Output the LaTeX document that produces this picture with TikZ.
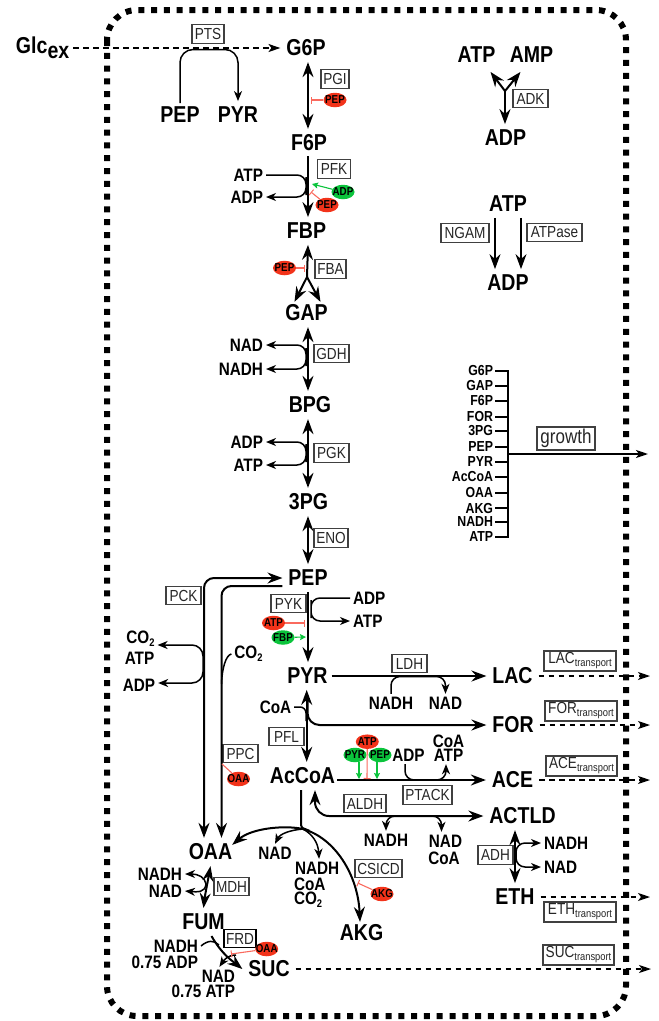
\documentclass[tikz,border=0pt]{standalone}
\usepackage{fontspec}
\setmainfont{Liberation Sans}[FakeStretch=0.85]
\usetikzlibrary{arrows.meta,positioning,shapes.geometric}
\definecolor{cred}{HTML}{F2331A}
\definecolor{cgreen}{HTML}{0BC43C}
\definecolor{credl}{HTML}{FA6A5E}
\newcommand{\twosub}{\raisebox{-3pt}{\fontsize{11}{11}\selectfont 2}}
\newcommand{\trsub}{\raisebox{-3pt}{\fontsize{11}{11}\selectfont transport}}
\begin{document}
\begin{tikzpicture}[x=1pt,y=-1pt,
  met/.style={font=\bfseries\fontsize{23}{23}\selectfont,inner sep=1pt,outer sep=5pt},
  cof/.style={font=\bfseries\fontsize{18}{18}\selectfont,inner sep=0pt,outer sep=3pt},
  pre/.style={font=\bfseries\fontsize{14.5}{14.5}\selectfont,inner sep=0pt,outer sep=2pt,anchor=east},
  enz/.style={draw=black!75,line width=1.2pt,text=black!85,inner sep=0pt,
              font=\fontsize{16}{16}\selectfont,minimum height=18.5pt},
  rred/.style={ellipse,fill=cred,minimum width=23pt,minimum height=14.5pt,inner xsep=-3pt,inner ysep=-1pt,
               font=\bfseries\fontsize{11.5}{11.5}\selectfont},
  rgreen/.style={rred,fill=cgreen},
  wall/.style={line width=6pt,dash pattern=on 6pt off 6.8pt,rounded corners=30pt},
  main/.style={-{Stealth[length=15pt,width=11pt,inset=5pt]},line width=2pt},
  both/.style={main,{Stealth[length=15pt,width=11pt,inset=5pt]}-{Stealth[length=15pt,width=11pt,inset=5pt]}},
  plain/.style={line width=2pt},
  side/.style={-{Stealth[length=10pt,width=8pt,inset=3pt]},line width=1.5pt,rounded corners=9pt},
  sideb/.style={side,{Stealth[length=10pt,width=8pt,inset=3pt]}-{Stealth[length=10pt,width=8pt,inset=3pt]}},
  flux/.style={-{Stealth[length=12pt,width=8pt,inset=3pt]},line width=1.4pt,dash pattern=on 5.5pt off 4.5pt},
  inh/.style={-{Bar[width=7pt,line width=1pt]},draw=credl,line width=1.1pt},
  act/.style={-{Stealth[length=6pt,width=6pt,inset=1pt]},draw=cgreen,line width=1.1pt}]
  \useasboundingbox (0,0) rectangle (659,1021);
  \draw[wall] (107,10) rectangle (626,1016);
  \coordinate (col) at (308,0);
  % glycolysis
  \node[met,anchor=base west,outer sep=3pt] (glc) at (12,53) {Glc\raisebox{-5pt}{ex}};
  \node[met] (g6p) at (306,48) {G6P};
  \node[met] (pepT) at (180,115) {PEP};
  \node[met] (pyrT) at (238,115) {PYR};
  \node[met] (f6p) at (309,143) {F6P};
  \node[met] (fbp) at (306.5,231) {FBP};
  \node[met] (gap) at (306.5,313) {GAP};
  \node[met] (bpg) at (310,405) {BPG};
  \node[met] (tpg) at (308.5,502) {3PG};
  \node[met] (pep) at (308,578) {PEP};
  \node[met] (pyr) at (307.5,676) {PYR};
  \node[met] (accoa) at (302.5,776) {AcCoA};
  \node[met] (oaa) at (210.5,852) {OAA};
  \node[met] (fum) at (203.5,922) {FUM};
  \node[met] (suc) at (269,969) {SUC};
  \node[met] (akg) at (361.5,933) {AKG};
  \node[met] (lac) at (512.5,676) {LAC};
  \node[met] (for) at (513,725) {FOR};
  \node[met] (ace) at (512.5,780) {ACE};
  \node[met] (actld) at (522.5,816) {ACTLD};
  \node[met] (eth) at (515,897) {ETH};
  % enzymes
  \node[enz,minimum width=32pt] (pts) at (208,34) {PTS};
  \node[enz,minimum width=28pt] (pgi) at (335,79) {PGI};
  \node[enz,minimum width=33pt] (pfk) at (334,169) {PFK};
  \node[enz,minimum width=31pt] (fba) at (330.5,269) {FBA};
  \node[enz,minimum width=35pt] (gdh) at (331.5,353.5) {GDH};
  \node[enz,minimum width=35pt] (pgk) at (331.5,453) {PGK};
  \node[enz,minimum width=34pt] (eno) at (331,538) {ENO};
  \node[enz,minimum width=35pt] (pyk) at (288.5,603.5) {PYK};
  \node[enz,minimum width=35pt] (pck) at (183.5,595.5) {PCK};
  \node[enz,minimum width=35pt] (ppc) at (240.5,753.5) {PPC};
  \node[enz,minimum width=35pt] (pfl) at (286.5,736.5) {PFL};
  \node[enz,minimum width=35pt] (ldh) at (409.5,663.5) {LDH};
  \node[enz,minimum width=49pt] (ptack) at (427.5,795) {PTACK};
  \node[enz,minimum width=42pt] (aldh) at (365,803.5) {ALDH};
  \node[enz,minimum width=47pt] (csicd) at (378.5,868.5) {CSICD};
  \node[enz,minimum width=35pt] (adh) at (495.5,855) {ADH};
  \node[enz,minimum width=35pt] (mdh) at (231.5,886.5) {MDH};
  \node[enz,minimum width=32pt,draw=black] (frd) at (240,938.5) {FRD};
  \node[enz,minimum width=35pt] (adk) at (530.5,98.5) {ADK};
  \node[enz,minimum width=48pt] (ngam) at (465,233) {NGAM};
  \node[enz,minimum width=55pt] (atpase) at (554.5,232.5) {ATPase};
  \node[enz,minimum width=58pt,minimum height=23pt,font=\fontsize{20}{20}\selectfont] (growth) at (566,438.5) {growth};
  \node[enz,minimum width=72pt,minimum height=20pt] (lactr) at (580,661) {LAC\trsub};
  \node[enz,minimum width=72pt,minimum height=20pt] (fortr) at (581,711) {FOR\trsub};
  \node[enz,minimum width=71pt,minimum height=20pt] (acetr) at (581.5,766) {ACE\trsub};
  \node[enz,minimum width=72pt,minimum height=20pt] (ethtr) at (580,912) {ETH\trsub};
  \node[enz,minimum width=71pt,minimum height=20pt] (suctr) at (578.5,955) {SUC\trsub};
  % PTS and upper glycolysis
  \coordinate (ptsc) at (208,49.5);
  \draw[flux] (glc.east |- g6p.west) -- (g6p.west);
  \draw[side,rounded corners=13pt,shorten <=-2pt] (pepT.north) |- (ptsc) -| (pyrT.north);
  \draw[both] (col |- g6p.south) -- (col |- f6p.north);
  \draw[main,shorten <=-1pt] (col |- f6p.south) -- (col |- fbp.north);
  \coordinate (fbaj) at (307,277);
  \draw[main] (fbaj) -- (col |- fbp.south);
  \draw[main] (fbaj) -- ([xshift=-12pt,yshift=-3pt]gap.north);
  \draw[main] (fbaj) -- ([xshift=14pt,yshift=-3pt]gap.north);
  \draw[both] (col |- gap.south) -- (col |- bpg.north);
  \draw[both] (col |- bpg.south) -- (col |- tpg.north);
  \draw[both] (col |- tpg.south) -- (col |- pep.north);
  \draw[main] (col |- pep.south) -- (col |- pyr.north);
  % cofactors along the column
  \node[cof,anchor=east] (atpA) at (266,175) {ATP};
  \node[cof,anchor=east] (adpA) at (266,197) {ADP};
  \coordinate (pfkc) at (306,186);
  \draw[side] (atpA.east) -| (pfkc) |- (adpA.east);
  \node[cof,anchor=east] (nadA) at (266,345) {NAD};
  \node[cof,anchor=east] (nadhA) at (266,369) {NADH};
  \coordinate (gdhc) at (306,357);
  \draw[sideb] (nadA.east) -| (gdhc) |- (nadhA.east);
  \node[cof,anchor=east] (adpB) at (266,442) {ADP};
  \node[cof,anchor=east] (atpB) at (266,465) {ATP};
  \coordinate (pgkc) at (306,453);
  \draw[sideb] (adpB.east) -| (pgkc) |- (atpB.east);
  \node[cof,anchor=west] (adpC) at (350,598) {ADP};
  \node[cof,anchor=west] (atpC) at (350,621) {ATP};
  \coordinate (pykc) at (311,609);
  \draw[side] (adpC.west) -| (pykc) |- (atpC.west);
  % regulators of the column
  \node[rred] (pepR) at (335,100) {PEP};
  \coordinate (pgit) at (311,100);
  \draw[inh] (pepR) -- (pgit);
  \node[rgreen] (adpR) at (343,192) {ADP};
  \node[rred] (pepS) at (327,205) {PEP};
  \coordinate (pfkg) at (312,184);
  \coordinate (pfkr) at (311,192);
  \draw[act] (adpR) -- (pfkg);
  \draw[inh] (pepS) -- (pfkr);
  \node[rred] (pepU) at (284.5,268) {PEP};
  \coordinate (fbat) at (305,268);
  \draw[inh] (pepU) -- (fbat);
  \node[rred] (atpR) at (273.5,623) {ATP};
  \node[rgreen] (fbpR) at (283,637.5) {FBP};
  \coordinate (pykr) at (305,623);
  \coordinate (pykg) at (306,637);
  \draw[inh] (atpR) -- (pykr);
  \draw[act] (fbpR) -- (pykg);
  % anaplerosis
  \draw[both,rounded corners=10pt] (pep.west) -| ([xshift=-6.5pt]oaa.north);
  \draw[main,rounded corners=10pt] ([yshift=-8pt]pep.west) -| ([xshift=11pt]oaa.north);
  \node[cof] (co2A) at (140.5,639) {CO\twosub};
  \node[cof] (atpD) at (139.5,658) {ATP};
  \node[cof] (adpD) at (139,685) {ADP};
  \coordinate (pckc) at (203,664);
  \draw[sideb,rounded corners=11pt] ([yshift=-6pt]co2A.east) -| (pckc) |- ([yshift=2pt]adpD.east);
  \node[cof] (co2B) at (248.5,654) {CO\twosub};
  \coordinate (ppcc) at (221.5,684);
  \draw[line width=1.5pt] (co2B.west) .. controls (226,655) and (222,668) .. (ppcc);
  \node[rred] (oaaR) at (238.5,779) {OAA};
  \coordinate (ppcr) at (222,764);
  \draw[inh,-] (oaaR) -- (ppcr);
  % pyruvate node
  \coordinate (colb) at (306.7,0);
  \coordinate (pflj) at (307.5,698);
  \draw[main,shorten <=-2pt] (pyr.east) -- (lac.west);
  \draw[both] (colb |- pyr.south) -- (colb |- accoa.north);
  \draw[main,rounded corners=12pt] (pflj) |- (for.west);
  \node[cof] (coaA) at (275.5,707) {CoA};
  \coordinate (coac) at (306,721);
  \draw[side,-,rounded corners=6pt] (coaA.east) -| (coac);
  \node[cof] (nadhL) at (391,703) {NADH};
  \node[cof] (nadL) at (445.5,703) {NAD};
  \coordinate (ldhc) at (420,676.5);
  \draw[side] (nadhL.north) |- (ldhc) -| (nadL.north);
  % acetate branch
  \draw[main,shorten <=-4pt] (accoa.east |- ace.west) -- (ace.west);
  \node[rred] (atpV) at (367.3,741.7) {ATP};
  \node[rgreen] (pyrV) at (355,755) {PYR};
  \node[rgreen] (pepV) at (380,755) {PEP};
  \coordinate (aceg) at (359,779);
  \coordinate (ackg) at (377,779);
  \coordinate (acer) at (367,779);
  \draw[act] (aceg |- pyrV.south) -- (aceg);
  \draw[act] (ackg |- pepV.south) -- (ackg);
  \draw[inh] (atpV) -- (acer);
  \node[cof] (adpE) at (408.5,755) {ADP};
  \node[cof] (atpE) at (448.5,755) {ATP};
  \node[cof] (coaE) at (448.5,741) {CoA};
  \coordinate (ptackc) at (425,780);
  \draw[side] ([xshift=-3.5pt]adpE.south) |- (ptackc) -| ([xshift=-2.5pt]atpE.south);
  % acetaldehyde and ethanol
  \draw[both,rounded corners=14pt] ([xshift=12.5pt]accoa.south) |- (actld.west);
  \coordinate (aldhl) at (400,816);
  \coordinate (aldhr) at (425,816);
  \node[cof] (nadhG) at (386,840) {NADH};
  \node[cof] (nadG) at (445.5,841) {NAD};
  \node[cof] (coaG) at (444,858) {CoA};
  \draw[side] (aldhl) -| (nadhG.north);
  \draw[side] (aldhr) -| ([xshift=-4pt]nadG.north);
  \coordinate (colc) at (515,0);
  \draw[both] (colc |- actld.south) -- (colc |- eth.north);
  \node[cof,anchor=west] (nadhH) at (541,843) {NADH};
  \node[cof,anchor=west] (nadH) at (541,867) {NAD};
  \coordinate (adhc) at (516,855);
  \draw[side] (adhc) |- (nadhH.west);
  \draw[side] (adhc) |- (nadH.west);
  % TCA side
  \coordinate (tcaj) at (303,829);
  \draw[plain,rounded corners=4pt] ([xshift=-1.5pt]accoa.south) |- (tcaj);
  \draw[main] (tcaj) .. controls (285,825) and (252,828) .. ([xshift=-6pt,yshift=-7pt]oaa.north east);
  \draw[main] (tcaj) .. controls (335,838) and (358,875) .. ([xshift=-1.5pt,yshift=-3pt]akg.north);
  \node[cof] (nadJ) at (275,853) {NAD};
  \node[cof,anchor=west] (nadhJ) at (292,868) {NADH};
  \node[cof,anchor=west] (coaJ) at (291,884) {CoA};
  \node[cof,anchor=west] (co2J) at (291,900) {CO\twosub};
  \draw[side] (tcaj) .. controls (290,830) and (280,834) .. (nadJ.north);
  \draw[side] (tcaj) .. controls (312,834) and (318,842) .. ([xshift=2pt]nadhJ.north);
  \node[rred] (akgR) at (382,894) {AKG};
  \coordinate (csr) at (357.7,883);
  \draw[inh] (akgR) -- (csr);
  % lower left
  \draw[both] (oaa.south) .. controls (208,880) and (205,895) .. (fum.north);
  \node[cof,anchor=east] (nadhK) at (185,874) {NADH};
  \node[cof,anchor=east] (nadK) at (185,891) {NAD};
  \coordinate (mdhj) at (206,884);
  \draw[side] (mdhj) .. controls (205,877) and (198,874) .. (nadhK.east);
  \draw[side] (mdhj) .. controls (205,893) and (197,892) .. (nadK.east);
  \draw[main] ([xshift=8pt]fum.south) .. controls (222,955) and (235,963) .. (suc.west);
  \node[cof,anchor=east] (nadhM) at (201,946) {NADH};
  \node[cof,anchor=east] (adpM) at (201,962) {0.75 ADP};
  \node[cof,anchor=east] (nadM) at (238,976) {NAD};
  \node[cof,anchor=east] (atpM) at (238,991) {0.75 ATP};
  \coordinate (frdl) at (219,945);
  \coordinate (frdr) at (236,955);
  \draw[line width=1.5pt] (nadhM.east) .. controls (208,940) and (214,940) .. (frdl);
  \draw[side] (frdr) .. controls (228,955) and (224,960) .. ([xshift=1pt]nadM.north);
  \node[rred] (oaaS) at (266.7,949) {OAA};
  \coordinate (frdt) at (231,954);
  \draw[inh] (oaaS) -- (frdt);
  % adenylates
  \node[met] (atpK) at (476.5,55) {ATP};
  \node[met] (ampK) at (531.5,55) {AMP};
  \node[met] (adpK) at (505.5,138) {ADP};
  \coordinate (adkj) at (505,91);
  \draw[main] (adkj) -- ([xshift=14pt,yshift=-3pt]atpK.south);
  \draw[main] (adkj) -- ([xshift=-11pt,yshift=-3pt]ampK.south);
  \draw[main] (adkj) -- (adkj |- adpK.north);
  \node[met] (atpN) at (508,204) {ATP};
  \node[met] (adpN) at (508,283) {ADP};
  \coordinate (ngx) at (495,0);
  \coordinate (apx) at (521,0);
  \draw[main,line width=1.2pt] (ngx |- atpN.south) -- (ngx |- adpN.north);
  \draw[main,line width=1.2pt] (apx |- atpN.south) -- (apx |- adpN.north);
  % growth
  \node[pre] (g1) at (495,371) {G6P};
  \node[pre] (g2) at (495,386) {GAP};
  \node[pre] (g3) at (495,401) {F6P};
  \node[pre] (g4) at (495,417) {FOR};
  \node[pre] (g5) at (495,431) {3PG};
  \node[pre] (g6) at (495,447) {PEP};
  \node[pre] (g7) at (495,462) {PYR};
  \node[pre] (g8) at (495,477) {AcCoA};
  \node[pre] (g9) at (495,493) {OAA};
  \node[pre] (g10) at (495,508) {AKG};
  \node[pre] (g11) at (495,522) {NADH};
  \node[pre] (g12) at (495,537) {ATP};
  \coordinate (gbar) at (508,0);
  \draw[plain] (g1.east) -| (gbar |- g12.east) -- (g12.east);
  \draw[plain] (g2.east) -- (gbar |- g2.east);
  \draw[plain] (g3.east) -- (gbar |- g3.east);
  \draw[plain] (g4.east) -- (gbar |- g4.east);
  \draw[plain] (g5.east) -- (gbar |- g5.east);
  \draw[plain] (g6.east) -- (gbar |- g6.east);
  \draw[plain] (g7.east) -- (gbar |- g7.east);
  \draw[plain] (g8.east) -- (gbar |- g8.east);
  \draw[plain] (g9.east) -- (gbar |- g9.east);
  \draw[plain] (g10.east) -- (gbar |- g10.east);
  \draw[plain] (g11.east) -- (gbar |- g11.east);
  \coordinate (gout) at (648,454);
  \draw[-{Stealth[length=12pt,width=8pt,inset=3pt]},line width=2pt] (gbar |- gout) -- (gout);
  % secretion
  \coordinate (lacout) at (650,676);
  \coordinate (forout) at (650,725);
  \coordinate (aceout) at (650,780);
  \coordinate (ethout) at (650,897);
  \coordinate (sucout) at (651,969);
  \draw[flux] (lac.east) -- (lacout);
  \draw[flux] (for.east) -- (forout);
  \draw[flux] (ace.east) -- (aceout);
  \draw[flux] (eth.east) -- (ethout);
  \draw[flux] (suc.east) -- (sucout);
\end{tikzpicture}
\end{document}
